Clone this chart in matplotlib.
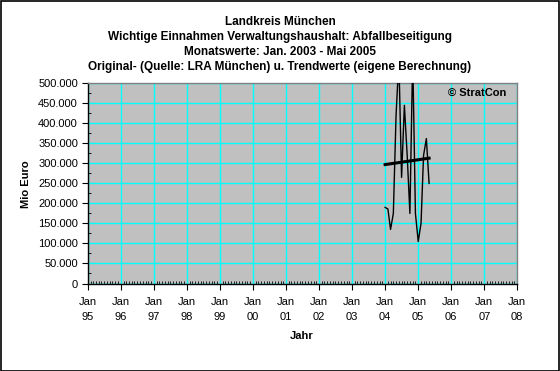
import matplotlib
matplotlib.use("Agg")
import matplotlib.pyplot as plt
import matplotlib.dates as mdates
from matplotlib.ticker import FuncFormatter, MultipleLocator
import pandas as pd

# monthly values (peaks above 500.000 are clipped)
months = pd.date_range("2004-01-01", "2005-05-01", freq="MS")
values = [190000, 186000, 135000, 175000, 420000, 560000, 265000, 445000,
          320000, 175000, 570000, 175000, 105000, 150000, 320000, 362000, 250000]

# linear trend, start and end
trend_dates = pd.to_datetime(["2004-01-01", "2005-05-01"])
trend_values = [297000, 313000]

titles = ["Landkreis München",
          "Wichtige Einnahmen Verwaltungshaushalt: Abfallbeseitigung",
          "Monatswerte: Jan. 2003 - Mai 2005",
          "Original- (Quelle: LRA München) u. Trendwerte (eigene Berechnung)"]

plt.rcParams["font.family"] = ["Liberation Sans", "DejaVu Sans"]

W, H = 560, 371
fig = plt.figure(figsize=(W / 100, H / 100), dpi=100)
fig.patch.set_facecolor("white")

# frame around the whole picture
fig.add_artist(plt.Rectangle((0.5 / W, 0.5 / H), 1 - 1.5 / W, 1 - 1.5 / H,
                             transform=fig.transFigure, fill=False,
                             edgecolor="black", linewidth=1.2))

left, right, top, bottom = 87.7, 517.3, 83.3, 283.5
ax = fig.add_axes([left / W, 1 - bottom / H, (right - left) / W, (bottom - top) / H])
ax.set_facecolor("#C0C0C0")

ax.plot(months, values, color="black", linewidth=1.0, zorder=3)
ax.plot(trend_dates, trend_values, color="black", linewidth=2.2, zorder=4)

ax.set_xlim(pd.Timestamp("1995-01-01"), pd.Timestamp("2008-01-01"))
ax.set_ylim(0, 500000)

ax.xaxis.set_major_locator(mdates.YearLocator())
ax.xaxis.set_major_formatter(mdates.DateFormatter("Jan\n%y"))
ax.xaxis.set_minor_locator(mdates.MonthLocator())
ax.yaxis.set_major_locator(MultipleLocator(50000))
ax.yaxis.set_minor_locator(MultipleLocator(25000))
ax.yaxis.set_major_formatter(FuncFormatter(lambda v, p: f"{int(v):,}".replace(",", ".")))

ax.grid(True, which="major", color="#00FFFF", linewidth=1.0)
ax.set_axisbelow(True)

ax.tick_params(which="major", direction="out", length=4, width=0.8,
               labelsize=8, color="black", pad=3)
ax.tick_params(axis="x", which="major", pad=6)
ax.tick_params(which="minor", direction="in", length=2, width=0.6, color="black")
for lbl in ax.get_xticklabels():
    lbl.set_linespacing(1.6)

for side in ["left", "bottom"]:
    ax.spines[side].set_color("black")
    ax.spines[side].set_linewidth(1.0)
for side in ["top", "right"]:
    ax.spines[side].set_color("#808080")
    ax.spines[side].set_linewidth(1.0)

ax.text(477 / W, 1 - 93 / H, "© StratCon", transform=fig.transFigure,
        ha="center", va="center", fontsize=8, fontweight="bold")

for i, t in enumerate(titles):
    fig.text(0.5, 1 - (22.3 + 14.8 * i) / H, t, ha="center", va="center",
             fontsize=8.5, fontweight="bold")

fig.text(26 / W, 1 - 184 / H, "Mio Euro", rotation=90, ha="center", va="center",
         fontsize=8, fontweight="bold")
fig.text(302 / W, 1 - 336 / H, "Jahr", ha="center", va="center",
         fontsize=8, fontweight="bold")

fig.savefig("out.png", dpi=100)
